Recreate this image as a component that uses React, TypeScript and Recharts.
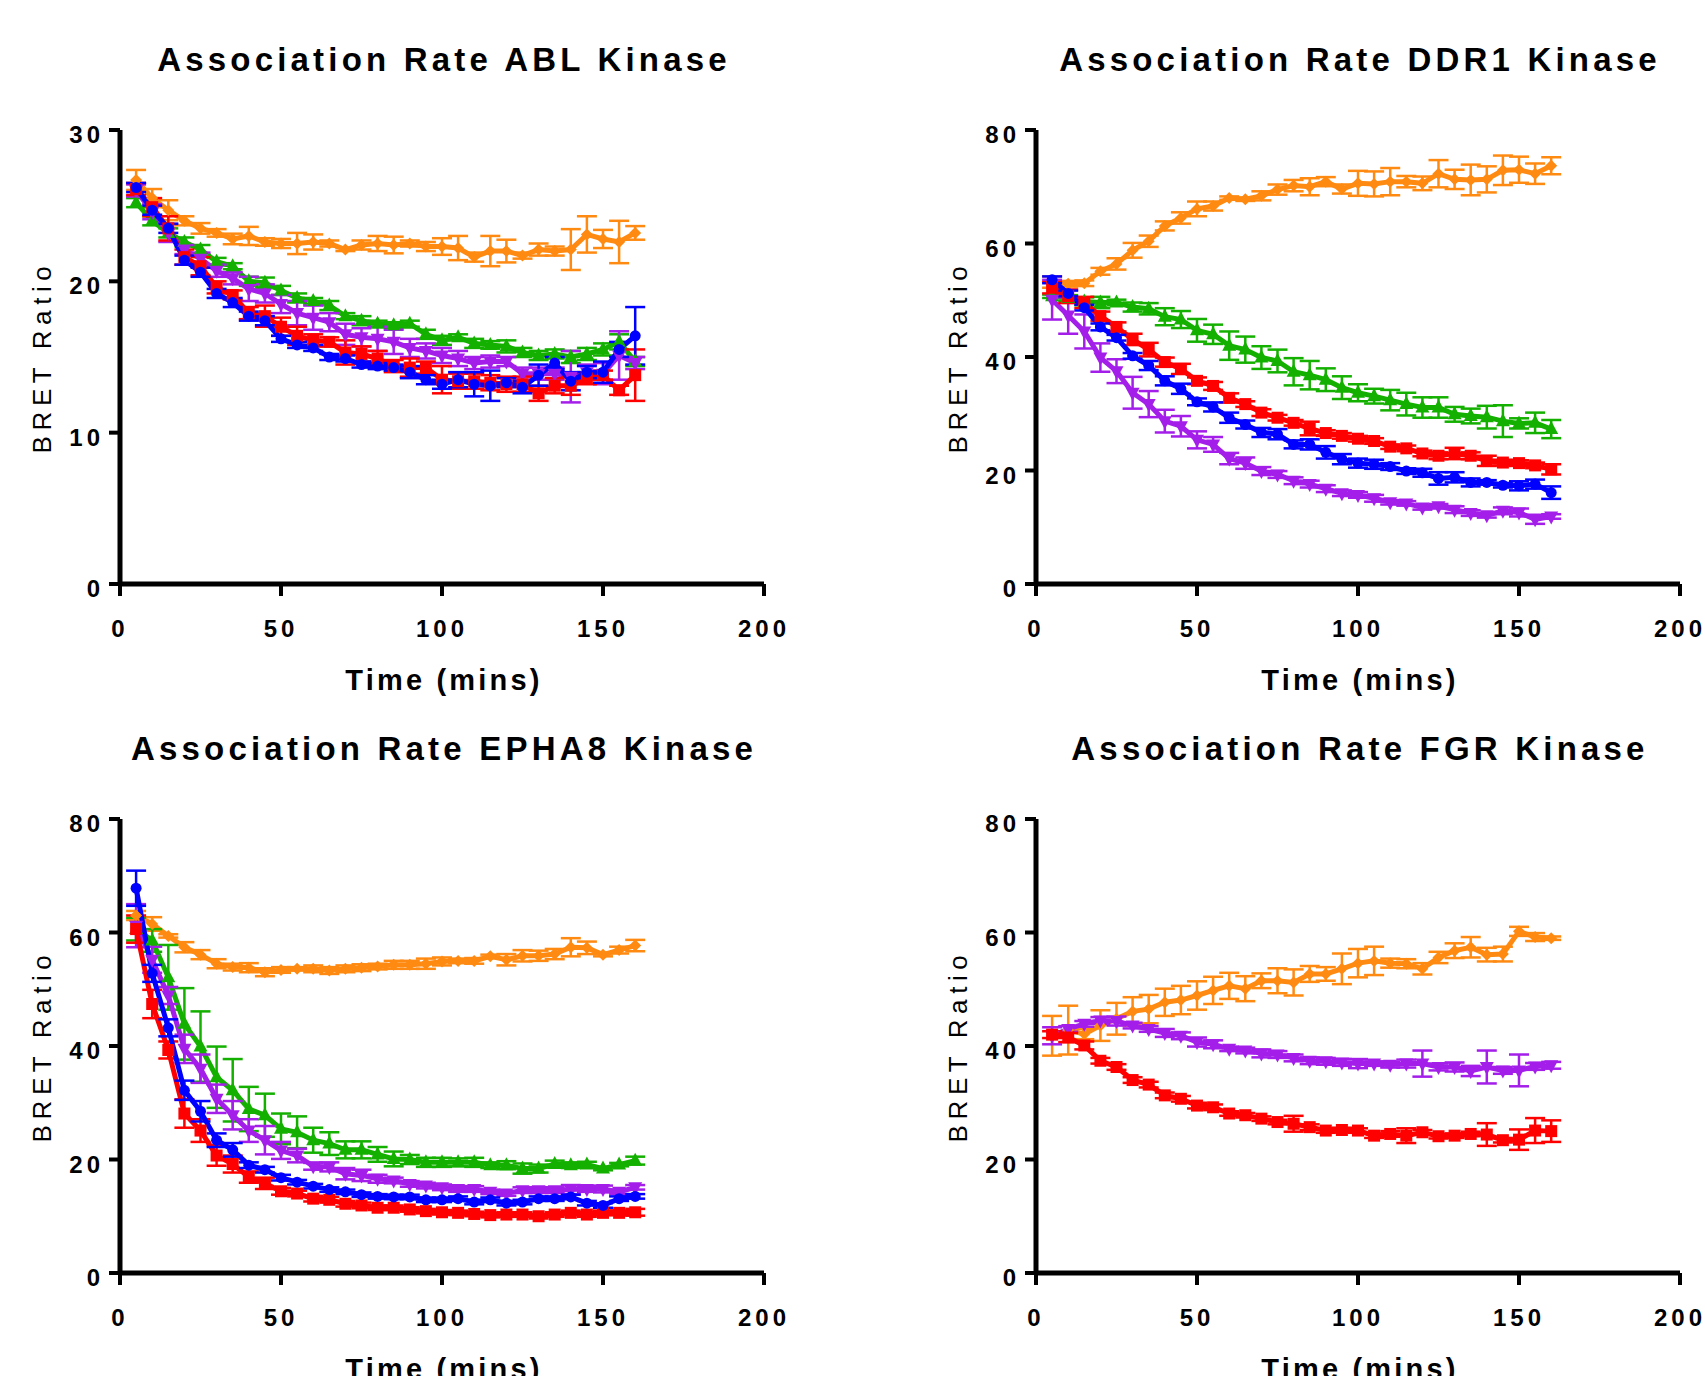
import React from 'react';
import { LineChart, Line, XAxis, YAxis, ErrorBar } from 'recharts';

// time points (mins)
const time = [5, 10, 15, 20, 25, 30, 35, 40, 45, 50, 55, 60, 65, 70, 75, 80, 85, 90, 95, 100, 105, 110, 115, 120, 125, 130, 135, 140, 145, 150, 155, 160];
const xTicks = [0, 50, 100, 150, 200];
const ablTicks = [0, 10, 20, 30];
const bretTicks = [0, 20, 40, 60, 80];

// ABL
const ablOrange = [26.7, 25.5, 24.7, 24.0, 23.5, 23.2, 22.8, 23.0, 22.6, 22.5, 22.5, 22.6, 22.5, 22.1, 22.4, 22.5, 22.4, 22.5, 22.3, 22.3, 22.2, 21.6, 22.0, 22.0, 21.7, 22.1, 22.0, 22.1, 23.1, 22.8, 22.6, 23.2];
const ablOrangeErr = [0.66, 0.6, 0.66, 0.3, 0.35, 0.25, 0.35, 0.6, 0.25, 0.3, 0.7, 0.5, 0.2, 0.1, 0.3, 0.5, 0.55, 0.2, 0.3, 0.55, 0.8, 0.3, 1.0, 0.75, 0.2, 0.4, 0.3, 1.35, 1.2, 0.6, 1.4, 0.45];
const ablGreen = [25.2, 24.0, 23.2, 22.6, 22.1, 21.3, 21.0, 20.0, 19.9, 19.4, 18.9, 18.7, 18.4, 17.7, 17.4, 17.2, 17.1, 17.2, 16.5, 16.1, 16.3, 15.9, 15.8, 15.7, 15.3, 15.1, 15.2, 15.0, 15.2, 15.5, 16.0, 14.7];
const ablGreenErr = [0.3, 0.3, 0.3, 0.3, 0.3, 0.25, 0.2, 0.3, 0.35, 0.3, 0.3, 0.2, 0.3, 0.2, 0.3, 0.2, 0.2, 0.2, 0.3, 0.3, 0.2, 0.3, 0.25, 0.4, 0.3, 0.3, 0.3, 0.4, 0.4, 0.4, 0.5, 0.3];
const ablPurple = [26.0, 24.6, 23.2, 22.1, 21.5, 20.7, 20.2, 19.5, 19.2, 18.5, 17.9, 17.6, 17.3, 16.5, 16.3, 16.2, 16.0, 15.6, 15.4, 15.1, 14.9, 14.6, 14.7, 14.7, 13.9, 13.9, 13.9, 13.7, 14.0, 13.9, 15.1, 14.6];
const ablPurpleErr = [0.4, 0.5, 0.6, 0.3, 0.4, 0.4, 0.4, 0.8, 0.6, 0.6, 0.8, 0.8, 0.6, 0.7, 0.6, 0.8, 0.8, 0.6, 0.5, 0.5, 0.5, 0.4, 0.4, 0.3, 0.4, 0.4, 0.4, 1.7, 0.5, 0.7, 1.6, 0.4];
const ablRed = [26.1, 24.9, 23.5, 21.6, 21.0, 19.6, 19.1, 17.9, 17.7, 17.0, 16.4, 16.1, 16.0, 15.3, 15.2, 14.9, 14.4, 14.3, 14.3, 13.5, 13.4, 13.4, 13.3, 13.2, 13.2, 12.6, 13.1, 13.1, 13.6, 13.8, 12.8, 13.8];
const ablRedErr = [0.4, 0.6, 0.8, 0.5, 0.6, 0.4, 0.3, 0.4, 0.7, 0.6, 0.6, 0.4, 0.3, 0.8, 0.5, 0.5, 0.4, 0.6, 0.4, 0.9, 0.5, 0.5, 0.5, 0.5, 0.5, 0.5, 0.5, 0.6, 0.4, 0.3, 0.3, 1.7];
const ablBlue = [26.2, 24.7, 23.5, 21.4, 20.6, 19.2, 18.6, 17.7, 17.4, 16.2, 15.8, 15.6, 15.0, 14.9, 14.5, 14.4, 14.3, 14.0, 13.5, 13.2, 13.5, 13.2, 13.1, 13.3, 13.0, 13.8, 14.6, 13.4, 14.0, 14.0, 15.5, 16.4];
const ablBlueErr = [0.3, 0.3, 0.3, 0.3, 0.3, 0.3, 0.3, 0.3, 0.3, 0.2, 0.2, 0.2, 0.2, 0.2, 0.2, 0.2, 0.2, 0.4, 0.3, 0.3, 0.5, 0.8, 1.0, 0.3, 0.4, 0.7, 0.4, 0.6, 0.4, 0.7, 0.5, 1.9];

// DDR1
const ddrOrange = [53.2, 52.9, 53.0, 55.1, 56.4, 58.8, 60.4, 63.1, 64.5, 66.1, 66.6, 68.0, 67.8, 68.4, 69.5, 70.2, 70.0, 70.9, 69.6, 70.6, 70.5, 70.9, 70.9, 70.6, 72.3, 71.3, 71.2, 71.3, 72.9, 73.0, 72.3, 73.7];
const ddrOrangeErr = [1.0, 0.5, 0.5, 0.6, 1.0, 1.3, 1.0, 0.8, 1.0, 1.3, 0.8, 0.3, 0.3, 0.8, 0.9, 1.0, 1.5, 0.8, 0.8, 2.2, 2.2, 2.4, 1.0, 1.2, 2.4, 1.7, 2.7, 2.3, 2.6, 2.3, 1.8, 1.5];
const ddrGreen = [50.7, 50.4, 49.8, 49.6, 49.6, 48.8, 48.5, 47.1, 46.6, 44.7, 44.0, 42.0, 41.3, 39.9, 39.3, 37.4, 36.8, 36.0, 34.6, 33.7, 33.1, 32.4, 31.7, 31.1, 31.1, 29.9, 29.6, 29.4, 28.7, 28.3, 28.4, 27.3];
const ddrGreenErr = [0.3, 0.5, 0.7, 1.0, 0.5, 0.8, 1.0, 1.5, 1.5, 2.0, 1.7, 2.5, 2.3, 2.0, 2.0, 2.4, 2.5, 2.0, 2.0, 1.5, 1.3, 1.8, 2.0, 1.8, 1.8, 1.3, 1.3, 2.0, 2.8, 0.9, 1.8, 1.6];
const ddrPurple = [50.1, 47.3, 44.5, 39.9, 37.5, 33.7, 31.7, 28.7, 27.8, 25.4, 24.6, 22.1, 21.3, 19.9, 19.3, 18.2, 17.6, 16.8, 16.0, 15.7, 15.1, 14.4, 14.2, 13.5, 13.7, 13.1, 12.5, 12.1, 12.9, 12.6, 11.4, 11.9];
const ddrPurpleErr = [3.5, 3.2, 3.0, 2.5, 2.1, 2.8, 2.3, 2.0, 1.8, 1.5, 1.3, 1.0, 1.0, 0.7, 0.6, 0.6, 0.6, 0.6, 0.5, 0.5, 0.6, 0.4, 0.4, 0.4, 0.4, 0.6, 0.5, 0.4, 0.6, 0.7, 0.8, 0.4];
const ddrRed = [52.2, 50.7, 49.6, 47.2, 45.3, 43.1, 41.3, 39.1, 37.9, 35.8, 34.9, 32.8, 31.7, 30.2, 29.3, 28.4, 27.4, 26.6, 26.1, 25.6, 25.2, 24.2, 23.9, 23.0, 22.6, 23.0, 22.6, 21.7, 21.4, 21.3, 20.9, 20.2];
const ddrRedErr = [1.0, 1.2, 1.0, 0.8, 0.8, 1.0, 1.2, 0.8, 0.9, 0.6, 0.7, 0.8, 0.5, 0.6, 0.5, 0.5, 1.2, 0.5, 0.5, 0.5, 0.5, 0.4, 0.5, 0.5, 0.6, 1.0, 0.6, 0.9, 0.5, 0.5, 0.5, 0.9];
const ddrBlue = [53.6, 51.2, 48.7, 45.3, 43.4, 40.2, 38.5, 35.8, 34.4, 32.1, 31.2, 29.3, 28.1, 26.7, 26.4, 24.6, 24.6, 23.2, 22.0, 21.3, 21.1, 20.7, 19.9, 19.6, 18.6, 18.8, 17.9, 17.9, 17.4, 17.3, 17.6, 16.1];
const ddrBlueErr = [0.6, 0.5, 0.5, 0.6, 0.5, 0.5, 0.8, 0.8, 0.9, 0.6, 0.8, 0.9, 0.7, 0.8, 0.9, 0.7, 0.9, 1.1, 0.9, 0.8, 0.8, 0.6, 0.5, 0.7, 1.1, 0.9, 0.7, 0.4, 0.4, 0.8, 0.8, 1.1];

// EPHA8
const ephOrange = [63.0, 61.5, 59.4, 57.4, 56.1, 54.5, 53.9, 53.8, 53.0, 53.4, 53.6, 53.6, 53.3, 53.6, 53.8, 54.0, 54.3, 54.3, 54.5, 54.9, 55.0, 55.0, 55.8, 55.2, 55.9, 55.9, 56.2, 57.4, 57.3, 56.1, 56.9, 57.7];
const ephOrangeErr = [0.8, 1.2, 0.3, 0.9, 0.8, 0.8, 0.6, 0.8, 0.7, 0.5, 0.3, 0.6, 0.6, 0.6, 0.6, 0.5, 0.7, 0.7, 0.9, 0.7, 0.4, 0.5, 0.3, 1.0, 1.0, 0.9, 0.9, 1.6, 1.1, 0.3, 0.6, 1.0];
const ephGreen = [60.6, 58.6, 52.1, 43.9, 39.9, 34.5, 32.2, 28.9, 27.8, 25.4, 24.8, 23.4, 22.8, 21.7, 21.7, 20.9, 20.1, 20.0, 19.5, 19.5, 19.5, 19.5, 19.0, 19.0, 18.4, 18.4, 19.2, 19.0, 19.1, 18.4, 19.1, 19.8];
const ephGreenErr = [2.0, 2.0, 5.7, 6.3, 6.2, 5.4, 5.5, 3.9, 3.8, 2.7, 2.8, 2.2, 2.0, 1.5, 1.5, 1.3, 1.3, 0.8, 0.8, 0.8, 0.7, 0.8, 0.5, 0.7, 0.9, 0.7, 0.6, 0.5, 0.5, 0.3, 0.3, 0.7];
const ephPurple = [61.2, 55.2, 48.9, 39.5, 36.0, 30.7, 27.8, 25.1, 23.4, 21.6, 20.7, 18.8, 18.7, 17.5, 17.2, 16.6, 16.3, 15.7, 15.4, 15.1, 14.8, 14.8, 14.3, 14.0, 14.6, 14.6, 14.6, 14.7, 14.8, 14.8, 14.3, 15.1];
const ephPurpleErr = [3.8, 2.3, 1.5, 2.5, 2.5, 2.5, 2.5, 2.0, 2.5, 1.5, 1.2, 0.6, 0.8, 1.0, 1.0, 0.7, 0.5, 0.5, 0.5, 0.5, 0.5, 0.5, 0.4, 0.4, 0.5, 0.5, 0.5, 0.8, 0.5, 0.6, 0.4, 0.4];
const ephRed = [60.6, 47.4, 39.3, 28.1, 25.1, 20.7, 19.2, 16.9, 15.8, 14.4, 14.0, 13.1, 12.9, 12.2, 11.9, 11.5, 11.5, 11.2, 10.9, 10.7, 10.6, 10.4, 10.2, 10.3, 10.3, 10.0, 10.3, 10.6, 10.3, 10.6, 10.6, 10.7];
const ephRedErr = [2.4, 2.5, 1.5, 2.5, 2.0, 1.8, 1.5, 1.0, 1.0, 0.6, 0.5, 0.5, 0.5, 0.5, 0.5, 0.4, 0.4, 0.4, 0.4, 0.4, 0.4, 0.4, 0.4, 0.4, 0.4, 0.4, 0.4, 0.4, 0.4, 0.4, 0.4, 0.6];
const ephBlue = [67.8, 52.8, 43.2, 32.2, 28.5, 23.4, 21.7, 19.0, 18.2, 16.8, 16.0, 15.3, 14.7, 14.3, 13.8, 13.5, 13.4, 13.4, 12.9, 12.9, 13.1, 12.5, 12.9, 12.3, 12.5, 13.1, 13.1, 13.4, 12.3, 11.9, 13.1, 13.5];
const ephBlueErr = [3.1, 1.5, 1.5, 1.7, 1.8, 1.2, 1.2, 0.5, 0.5, 0.5, 0.4, 0.4, 0.4, 0.4, 0.4, 0.4, 0.4, 0.4, 0.4, 0.4, 0.4, 0.4, 0.4, 0.4, 0.4, 0.4, 0.4, 0.4, 0.4, 0.4, 0.4, 0.4];

// FGR
const fgrOrange = [41.8, 42.8, 42.1, 43.6, 44.8, 46.1, 46.5, 47.7, 48.1, 48.9, 49.8, 50.6, 50.1, 51.5, 51.5, 51.2, 52.7, 52.7, 53.6, 54.6, 55.0, 54.6, 54.5, 53.6, 55.6, 56.8, 57.4, 56.1, 56.2, 60.2, 59.2, 59.0];
const fgrOrangeErr = [3.5, 4.3, 0.9, 2.7, 2.8, 2.5, 2.5, 2.4, 2.5, 2.5, 2.4, 2.3, 2.2, 1.3, 2.2, 2.3, 1.4, 1.2, 2.7, 2.5, 2.5, 0.8, 0.8, 1.0, 1.0, 1.3, 1.8, 1.2, 1.3, 0.8, 0.7, 0.3];
const fgrPurple = [41.8, 43.0, 43.9, 44.5, 44.4, 43.6, 43.0, 42.3, 41.8, 40.7, 40.3, 39.5, 39.2, 38.7, 38.5, 37.9, 37.4, 37.3, 37.1, 36.9, 36.9, 36.7, 36.9, 36.9, 36.3, 36.3, 35.6, 36.3, 35.7, 35.7, 36.4, 36.6];
const fgrPurpleErr = [1.5, 0.5, 0.5, 0.6, 0.8, 0.5, 0.5, 0.7, 0.6, 0.8, 0.7, 0.4, 0.5, 0.7, 0.6, 0.6, 0.6, 0.6, 0.6, 0.8, 0.4, 0.5, 0.7, 2.3, 0.6, 0.8, 0.9, 2.9, 0.6, 2.8, 0.6, 0.6];
const fgrRed = [42.0, 41.5, 40.1, 37.4, 36.3, 34.0, 33.2, 31.3, 30.7, 29.5, 29.2, 28.1, 27.8, 27.2, 26.6, 26.3, 25.7, 25.1, 25.2, 25.1, 24.2, 24.5, 24.2, 24.8, 24.1, 24.2, 24.5, 24.4, 23.4, 23.5, 25.1, 25.0];
const fgrRedErr = [0.6, 0.8, 0.7, 0.5, 0.5, 0.5, 0.5, 0.5, 0.5, 0.5, 0.5, 0.4, 0.4, 0.4, 0.4, 1.4, 0.5, 0.4, 0.4, 0.4, 0.4, 0.5, 1.3, 0.4, 0.4, 0.4, 0.4, 2.0, 0.4, 1.8, 2.2, 1.9];

const ORANGE = '#FF8A12';
const GREEN = '#14B000';
const PURPLE = '#A41EEA';
const RED = '#FF0000';
const BLUE = '#0000FF';

type Shape = 'diamond' | 'up' | 'down' | 'square' | 'circle';
type Series = { key: string; color: string; shape: Shape; values: number[]; errors: number[] };

const FONT = "'Liberation Sans', Arial, sans-serif";
const W = 850;
const H = 688;

const marker = (shape: Shape, color: string) => (p: any) => {
  const { cx, cy, index } = p;
  if (cx == null || cy == null) return <g key={index} />;
  if (shape === 'circle') return <circle key={index} cx={cx} cy={cy} r={5.5} fill={color} />;
  if (shape === 'square') return <rect key={index} x={cx - 6} y={cy - 6} width={12} height={12} fill={color} />;
  if (shape === 'up')
    return <polygon key={index} points={`${cx},${cy - 8} ${cx + 7},${cy + 5} ${cx - 7},${cy + 5}`} fill={color} />;
  if (shape === 'down')
    return <polygon key={index} points={`${cx},${cy + 8} ${cx + 7},${cy - 5} ${cx - 7},${cy - 5}`} fill={color} />;
  return <polygon key={index} points={`${cx},${cy - 6} ${cx + 6},${cy} ${cx},${cy + 6} ${cx - 6},${cy}`} fill={color} />;
};

const XTick = (p: any) => (
  <text x={p.x} y={p.y} dy={41} textAnchor="middle" fill="#000"
    style={{ fontFamily: FONT, fontWeight: 700, fontSize: 24, letterSpacing: '4px' }}>
    {p.payload.value}
  </text>
);

const YTick = (p: any) => (
  <text x={p.x - 5} y={p.y} dy={13} textAnchor="end" fill="#000"
    style={{ fontFamily: FONT, fontWeight: 700, fontSize: 24, letterSpacing: '4px' }}>
    {p.payload.value}
  </text>
);

function Panel({ left, top, title, yMax, yTicks, series }: {
  left: number; top: number; title: string; yMax: number; yTicks: number[]; series: Series[];
}) {
  const data = time.map((t, i) => {
    const row: Record<string, number> = { t };
    series.forEach((s) => {
      row[s.key] = s.values[i];
      row[s.key + 'Err'] = s.errors[i];
    });
    return row;
  });

  return (
    <div style={{ position: 'absolute', left, top, width: W, height: H }}>
      <LineChart width={W} height={H} data={data} margin={{ top: 130, right: 86, bottom: 44, left: 60 }}>
        <XAxis dataKey="t" type="number" domain={[0, 200]} ticks={xTicks} height={60}
          axisLine={{ stroke: '#000', strokeWidth: 5 }} tickLine={{ stroke: '#000', strokeWidth: 4 }}
          tickSize={12} tickMargin={0} tick={XTick} interval={0} />
        <YAxis type="number" domain={[0, yMax]} ticks={yTicks} width={60}
          axisLine={{ stroke: '#000', strokeWidth: 5 }} tickLine={{ stroke: '#000', strokeWidth: 4 }}
          tickSize={11} tickMargin={0} tick={YTick} interval={0} />
        {series.map((s) => (
          <Line key={s.key} type="linear" dataKey={s.key} stroke={s.color} strokeWidth={5}
            dot={marker(s.shape, s.color)} activeDot={false} isAnimationActive={false}>
            <ErrorBar dataKey={s.key + 'Err'} width={10} strokeWidth={2.5} stroke={s.color} direction="y" />
          </Line>
        ))}
      </LineChart>
      <svg width={W} height={H + 40} style={{ position: 'absolute', left: 0, top: 0, pointerEvents: 'none', overflow: 'visible' }}>
        <text x={444} y={71} textAnchor="middle" fill="#000"
          style={{ fontFamily: FONT, fontWeight: 700, fontSize: 33, letterSpacing: '4.2px' }}>{title}</text>
        <text x={444} y={690} textAnchor="middle" fill="#000"
          style={{ fontFamily: FONT, fontWeight: 700, fontSize: 29, letterSpacing: '3.2px' }}>Time (mins)</text>
        <text transform="translate(51,357) rotate(-90)" textAnchor="middle" fill="#000"
          style={{ fontFamily: FONT, fontWeight: 400, fontSize: 26, letterSpacing: '5.6px' }}>BRET Ratio</text>
      </svg>
    </div>
  );
}

const ablSeries: Series[] = [
  { key: 'orange', color: ORANGE, shape: 'diamond', values: ablOrange, errors: ablOrangeErr },
  { key: 'green', color: GREEN, shape: 'up', values: ablGreen, errors: ablGreenErr },
  { key: 'purple', color: PURPLE, shape: 'down', values: ablPurple, errors: ablPurpleErr },
  { key: 'red', color: RED, shape: 'square', values: ablRed, errors: ablRedErr },
  { key: 'blue', color: BLUE, shape: 'circle', values: ablBlue, errors: ablBlueErr },
];
const ddrSeries: Series[] = [
  { key: 'orange', color: ORANGE, shape: 'diamond', values: ddrOrange, errors: ddrOrangeErr },
  { key: 'green', color: GREEN, shape: 'up', values: ddrGreen, errors: ddrGreenErr },
  { key: 'purple', color: PURPLE, shape: 'down', values: ddrPurple, errors: ddrPurpleErr },
  { key: 'red', color: RED, shape: 'square', values: ddrRed, errors: ddrRedErr },
  { key: 'blue', color: BLUE, shape: 'circle', values: ddrBlue, errors: ddrBlueErr },
];
const ephSeries: Series[] = [
  { key: 'orange', color: ORANGE, shape: 'diamond', values: ephOrange, errors: ephOrangeErr },
  { key: 'green', color: GREEN, shape: 'up', values: ephGreen, errors: ephGreenErr },
  { key: 'purple', color: PURPLE, shape: 'down', values: ephPurple, errors: ephPurpleErr },
  { key: 'red', color: RED, shape: 'square', values: ephRed, errors: ephRedErr },
  { key: 'blue', color: BLUE, shape: 'circle', values: ephBlue, errors: ephBlueErr },
];
const fgrSeries: Series[] = [
  { key: 'orange', color: ORANGE, shape: 'diamond', values: fgrOrange, errors: fgrOrangeErr },
  { key: 'purple', color: PURPLE, shape: 'down', values: fgrPurple, errors: fgrPurpleErr },
  { key: 'red', color: RED, shape: 'square', values: fgrRed, errors: fgrRedErr },
];

export default function App() {
  return (
    <div style={{ position: 'absolute', left: 0, top: 0, width: 1705, height: 1376, overflow: 'hidden', background: '#fff' }}>
      <Panel left={0} top={0} title="Association Rate ABL Kinase" yMax={30} yTicks={ablTicks} series={ablSeries} />
      <Panel left={916} top={0} title="Association Rate DDR1 Kinase" yMax={80} yTicks={bretTicks} series={ddrSeries} />
      <Panel left={0} top={689} title="Association Rate EPHA8 Kinase" yMax={80} yTicks={bretTicks} series={ephSeries} />
      <Panel left={916} top={689} title="Association Rate FGR Kinase" yMax={80} yTicks={bretTicks} series={fgrSeries} />
    </div>
  );
}
